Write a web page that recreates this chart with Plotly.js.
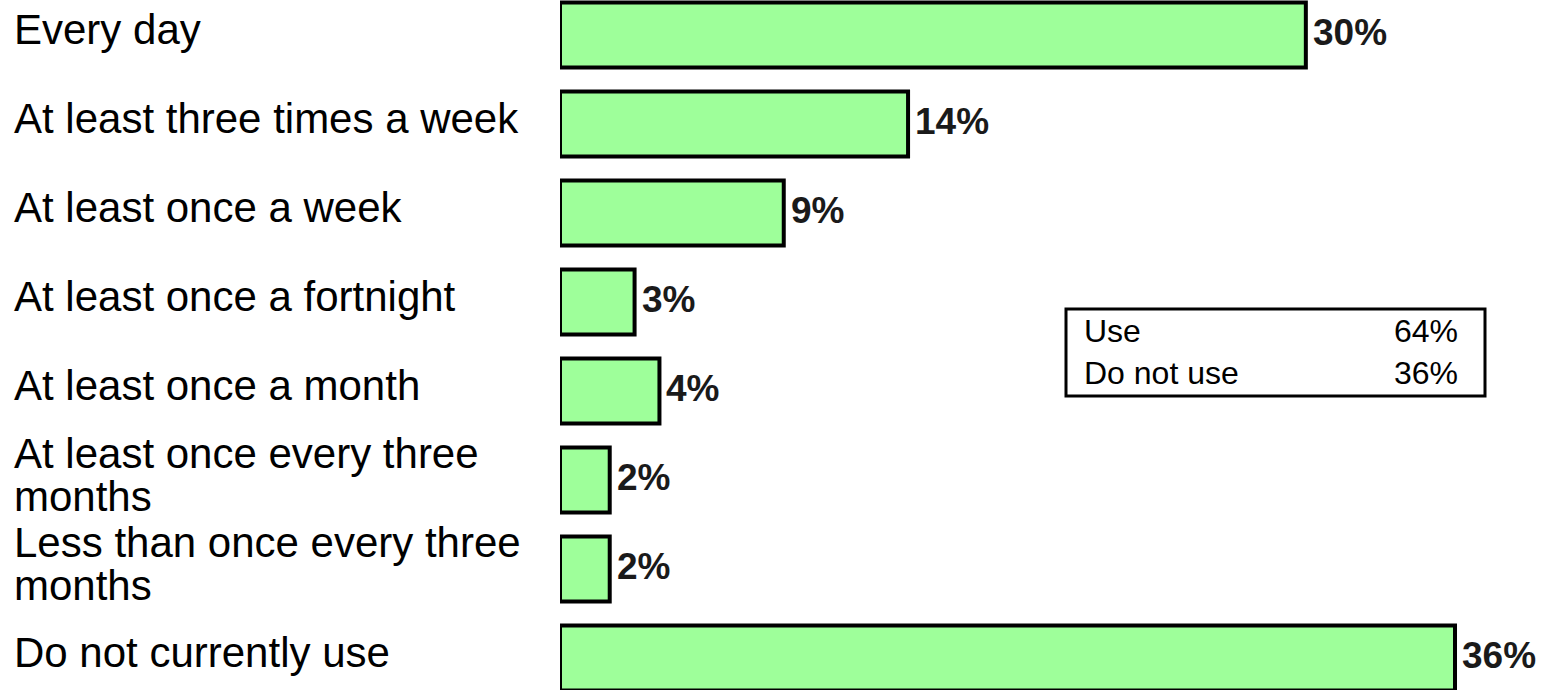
<!DOCTYPE html>
<html>
<head>
<meta charset="utf-8">
<script src="https://cdn.plot.ly/plotly-3.0.1.min.js"></script>
<style>
  html, body { margin: 0; padding: 0; background: #fff; }
  #myDiv { width: 1547px; height: 690px; }
</style>
</head>
<body>
<div id="myDiv"></div>
<script>
var categories = [
    'Every day',
    'At least three times a week',
    'At least once a week',
    'At least once a fortnight',
    'At least once a month',
    'At least once every three<br>months',
    'Less than once every three<br>months',
    'Do not currently use'
];
var values = [30, 14, 9, 3, 4, 2, 2, 36];
var valueLabels = ['30%', '14%', '9%', '3%', '4%', '2%', '2%', '36%'];

var boxRows = ['Use', 'Do not use'];
var boxValues = ['64%', '36%'];

var W = 1547, H = 690, L = 560;
function px(x) { return (x - L) / (W - L); }
function py(y) { return 1 - y / H; }

var trace = {
    type: 'bar',
    orientation: 'h',
    y: categories.map(function(c, i) { return i; }),
    x: values,
    width: 0.73,
    marker: {
        color: 'rgb(158, 255, 154)',
        line: { color: 'black', width: 4 }
    },
    hoverinfo: 'none'
};

var annotations = [];
categories.forEach(function(c, i) {
    var lines = c.split('<br>');
    lines.forEach(function(line, k) {
        annotations.push({
            xref: 'paper', yref: 'y',
            x: px(12), y: i,
            xanchor: 'left', yanchor: 'middle',
            yshift: 5 + (lines.length - 1) * 21.5 - 43 * k,
            text: line,
            showarrow: false,
            font: { family: 'Liberation Sans, Arial, sans-serif', size: 42, color: 'black' }
        });
    });
});

// value labels next to each bar
values.forEach(function(v, i) {
    annotations.push({
        xref: 'x', yref: 'y',
        x: v, y: i,
        xanchor: 'left', yanchor: 'middle',
        xshift: 5, yshift: 2,
        text: valueLabels[i],
        showarrow: false,
        font: { family: 'Liberation Sans, Arial, sans-serif', size: 37, color: '#1a1a1a', weight: 'bold' }
    });
});

// summary box
annotations.push({
    xref: 'paper', yref: 'paper',
    x: px(1082), y: py(352),
    xanchor: 'left', yanchor: 'middle',
    align: 'left',
    text: boxRows.join('<br>'), showarrow: false,
    font: { family: 'Liberation Sans, Arial, sans-serif', size: 32, color: 'black' }
});
annotations.push({
    xref: 'paper', yref: 'paper',
    x: px(1460), y: py(352),
    xanchor: 'right', yanchor: 'middle',
    align: 'right',
    text: boxValues.join('<br>'), showarrow: false,
    font: { family: 'Liberation Sans, Arial, sans-serif', size: 32, color: 'black' }
});

var layout = {
    width: W,
    height: H,
    margin: { l: L, r: 0, t: 0, b: 0 },
    paper_bgcolor: 'white',
    plot_bgcolor: 'white',
    showlegend: false,
    xaxis: {
        range: [0, 39.7],
        showgrid: false, zeroline: false, showticklabels: false, showline: false
    },
    yaxis: {
        range: [7.36, -0.393],
        showgrid: false, zeroline: false, showticklabels: false, showline: false
    },
    shapes: [{
        type: 'rect', xref: 'paper', yref: 'paper',
        x0: px(1066), x1: px(1485), y0: py(309), y1: py(396),
        line: { color: 'black', width: 3 },
        fillcolor: 'rgba(0,0,0,0)'
    }],
    annotations: annotations
};

Plotly.newPlot('myDiv', [trace], layout, { staticPlot: true });
</script>
</body>
</html>
